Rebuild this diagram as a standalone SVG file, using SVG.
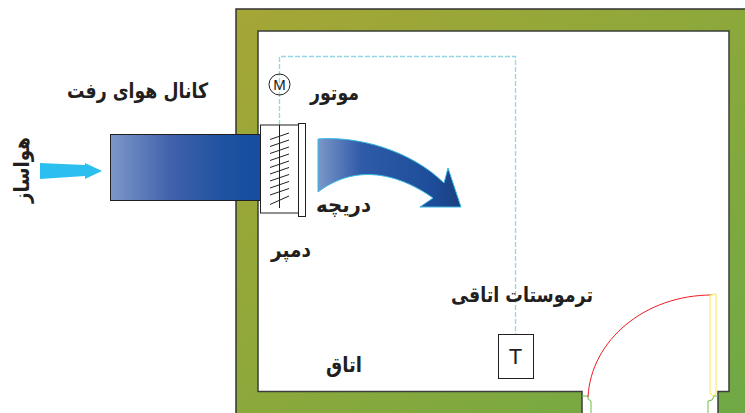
<svg xmlns="http://www.w3.org/2000/svg" width="745" height="413" viewBox="0 0 745 413">
<style>
.l{font-family:"DejaVu Sans","Noto Sans",sans-serif;font-weight:700;font-size:21px;fill:#231f20;direction:rtl;text-anchor:middle}
.thin{fill:none;stroke:#231f20;stroke-width:1}
.box{fill:#fff;stroke:#231f20;stroke-width:1}
</style>
<defs>
<linearGradient id="wall" x1="0" y1="0" x2="1" y2="1"><stop offset="0" stop-color="#a5a636"/><stop offset=".45" stop-color="#8fa83a"/><stop offset="1" stop-color="#6fa945"/></linearGradient>
<linearGradient id="duct" x1="0" y1="0" x2="1" y2="0"><stop offset="0" stop-color="#7c97c9"/><stop offset=".4" stop-color="#4062ab"/><stop offset=".75" stop-color="#1f52a1"/><stop offset="1" stop-color="#164d9f"/></linearGradient>
<linearGradient id="flow" x1="0" y1="0" x2="1" y2="0"><stop offset="0" stop-color="#7c97c9"/><stop offset=".3" stop-color="#2f5ba8"/><stop offset=".8" stop-color="#1d4d9a"/><stop offset="1" stop-color="#1b3f7f"/></linearGradient>
</defs>
<g id="room">
<path d="M236 413V9H745V413H718V391.500H729V31H258V391.500H582V413Z" fill="url(#wall)"/>
<path d="M236 413V9H745" fill="none" stroke="#333" stroke-width="1.500"/>
<path d="M582 413V391.500H258V31H729V391.500H718V413" fill="none" stroke="#3a3f38" stroke-width="1.500"/>
</g>
<g id="door">
<path d="M582 396H588V399L591 401V413M708 413V401L712 400L714 396H718" fill="none" stroke="#6cbe45" stroke-width="1"/>
<path d="M588 397C591 340 645 295 712 295" fill="none" stroke="#ed1c24" stroke-width="1"/>
<path d="M710 295H713V294H716V394L713 396L710 393Z" fill="#fff" stroke="#f5ea4a" stroke-width="1"/>
</g>
<g id="connectors">
<path d="M279.500 125V56.500H515.500V334" fill="none" stroke="#8fd8e6" stroke-width="1.300" stroke-dasharray="5 2"/>
</g>
<g id="duct"><rect x="110.500" y="134.500" width="150" height="66" fill="url(#duct)" stroke="#231f20" stroke-width="1"/></g>
<g id="damper">
<rect x="260.500" y="125" width="38" height="88" class="box"/>
<rect x="298.500" y="123.500" width="7" height="93" class="box"/>
<path class="thin" d="M279.500 125V208M270 139.500L289 133M270 146.500L289 140M270 153.500L289 147M270 160.500L289 154M270 167.500L289 161M270 174L289 167.500M270 181L289 174.500M270 188L289 181.500M270 195L289 188.500M270 204.500L289 196"/>
</g>
<g id="motor"><circle cx="279.500" cy="84.500" r="10.500" fill="none" stroke="#231f20" stroke-width="1"/>
<text x="279.500" y="90" text-anchor="middle" font-family="Liberation Sans,sans-serif" font-size="15" fill="#231f20">M</text></g>
<g id="thermostat"><rect x="498.500" y="334.500" width="35" height="44" class="box"/>
<text x="515.500" y="364" text-anchor="middle" font-family="Liberation Sans,sans-serif" font-size="22" fill="#231f20">T</text></g>
<g id="supply-arrow"><path d="M40 163L85 165V163L102 171L85 179V176L40 179Z" fill="#2bbff0"/></g>
<g id="flow-arrow"><path d="M318 139C358 136 410 150 444 183L448 168L461 207L420 207L433 198C405 178 360 160 318 192Z" fill="url(#flow)" stroke="#39b9e3" stroke-width="1"/></g>
<g id="labels">
<text class="l" x="137.500" y="98" textLength="141" lengthAdjust="spacingAndGlyphs">كانال هواى رفت</text>
<text class="l" x="334.500" y="100" textLength="49" lengthAdjust="spacingAndGlyphs">موتور</text>
<text class="l" x="343.500" y="212" textLength="55" lengthAdjust="spacingAndGlyphs">دريچه</text>
<text class="l" x="291" y="257" textLength="40" lengthAdjust="spacingAndGlyphs">دمپر</text>
<text class="l" x="522" y="302" textLength="142" lengthAdjust="spacingAndGlyphs">ترموستات اتاقى</text>
<text class="l" x="344" y="372" textLength="36" lengthAdjust="spacingAndGlyphs">اتاق</text>
<text class="l" transform="translate(29 170) rotate(-90)" x="0" y="0" textLength="66" lengthAdjust="spacingAndGlyphs">هواساز</text>
</g>
</svg>
